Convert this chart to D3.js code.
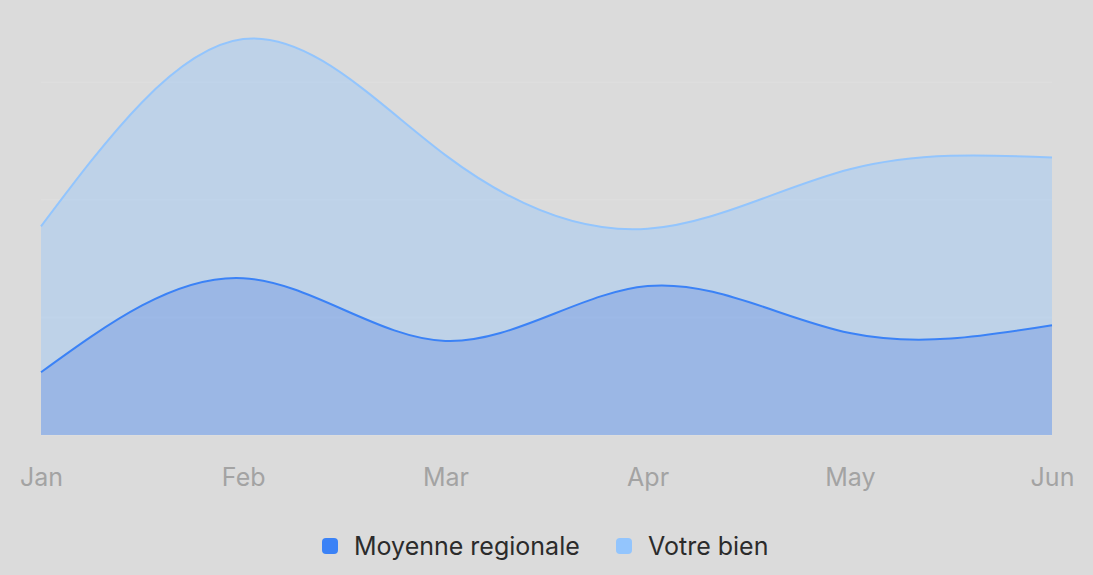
<!DOCTYPE html>
<html>
<head>
<meta charset="utf-8">
<script src="https://cdn.jsdelivr.net/npm/d3@7.9.0/dist/d3.min.js"></script>
<style>
  html, body { margin: 0; padding: 0; background: #dbdbdb; }
  svg { display: block; font-family: Inter, "Noto Sans", sans-serif; }
</style>
</head>
<body>
<svg id="chart" width="1093" height="575"></svg>
<script>
// data
const months  = ['Jan', 'Feb', 'Mar', 'Apr', 'May', 'Jun'];
const moyenne = [80, 200, 120, 190, 130, 140];   // Moyenne regionale
const votre   = [186, 305, 237, 73, 209, 214];   // Votre bien (stacked on top)
const gridTicks = [0, 150, 300, 450];

const series = [
  { key: 'moyenne', label: 'Moyenne regionale', values: moyenne, color: '#3b82f6' },
  { key: 'votre',   label: 'Votre bien',        values: votre,   color: '#93c5fd' }
];

/* ── layout ───────────────────────────────────────────── */
const svg = d3.select('#chart');

const x = d3.scalePoint().domain(months).range([41, 1052]);
const y = d3.scaleLinear().domain([0, 600]).range([435, -35.4]);

/* ── grid (very faint) ────────────────────────────────── */
svg.append('g')
  .selectAll('line')
  .data(gridTicks)
  .join('line')
    .attr('x1', x('Jan')).attr('x2', x('Jun'))
    .attr('y1', d => y(d)).attr('y2', d => y(d))
    .attr('stroke', '#dedede')
    .attr('stroke-width', 1.5);

/* ── stacked areas ────────────────────────────────────── */
const table = months.map((m, i) => ({ month: m, moyenne: moyenne[i], votre: votre[i] }));
const stacked = d3.stack().keys(series.map(s => s.key))(table);

const area = d3.area()
  .x(d => x(d.data.month))
  .y0(d => y(d[0]))
  .y1(d => y(d[1]))
  .curve(d3.curveNatural);

const line = d3.line()
  .x(d => x(d.data.month))
  .y(d => y(d[1]))
  .curve(d3.curveNatural);

// draw top series first so the bottom stroke sits above it
const layers = svg.append('g')
  .selectAll('g')
  .data(stacked.slice().reverse())
  .join('g');

layers.append('path')
  .attr('d', area)
  .attr('fill', d => series.find(s => s.key === d.key).color)
  .attr('fill-opacity', 0.4);

layers.append('path')
  .attr('d', line)
  .attr('fill', 'none')
  .attr('stroke', d => series.find(s => s.key === d.key).color)
  .attr('stroke-width', 2);

/* ── x axis ───────────────────────────────────────────── */
const xAxis = svg.append('g')
  .attr('transform', 'translate(0,435)')
  .call(d3.axisBottom(x).tickSize(0).tickPadding(33));

xAxis.select('.domain').remove();
xAxis.selectAll('text')
  .attr('font-size', 25)
  .attr('font-family', 'Inter, sans-serif')
  .attr('fill', '#a3a3a3');

/* ── legend ───────────────────────────────────────────── */
const legend = svg.append('g').attr('transform', 'translate(0,546)');
const item = legend.selectAll('g')
  .data(series)
  .join('g')
    .attr('transform', (d, i) => `translate(${[322, 616][i]},0)`);

item.append('rect')
  .attr('x', 0).attr('y', -8)
  .attr('width', 16).attr('height', 16)
  .attr('rx', 4)
  .attr('fill', d => d.color);

item.append('text')
  .attr('x', 32)
  .attr('dy', '0.36em')
  .attr('font-size', 25)
  .attr('fill', '#2b2b2b')
  .text(d => d.label);
</script>
</body>
</html>
